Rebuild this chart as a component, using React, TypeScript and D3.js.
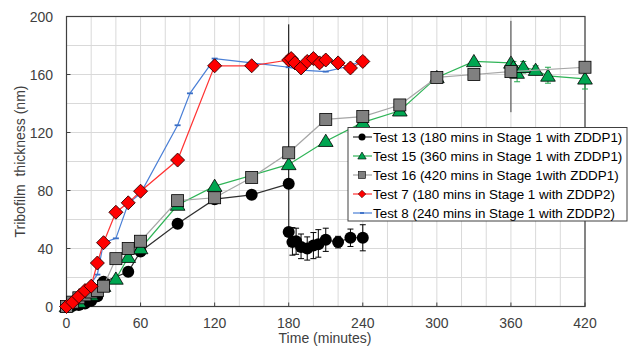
import React from "react";
import * as d3 from "d3";

// ---------- data ----------
const t13Time = [0, 5, 10, 15, 20, 25, 30, 50, 60, 90, 120, 150, 180, 180, 183, 186, 190, 195, 200, 204, 210, 220, 230, 240];
const t13Val = [0, 0.5, 1, 2, 4, 7, 17, 24, 38, 57, 74, 77, 84.6, 51.3, 44.4, 45, 41, 40, 42, 43, 46, 44.4, 47.4, 47.4];
const t13ErrPlus = [0, 0, 0, 0, 0, 0, 0, 0, 0, 0, 0, 0, 110, 0, 10, 9, 9, 8, 9, 10, 8, 4, 6, 9];
const t13ErrMinus = [0, 0, 0, 0, 0, 0, 0, 0, 0, 0, 0, 0, 0, 0, 9, 9, 8, 8, 9, 9, 8, 4, 6, 9];

const t15Time = [0, 10, 20, 30, 40, 50, 60, 90, 120, 180, 210, 240, 270, 300, 330, 360, 362, 365, 370, 380, 390, 420];
const t15Val = [0, 3, 8, 14, 19, 34, 40, 70, 83, 98, 114, 127, 135, 158, 169, 168, 165, 161, 165, 163, 159, 157];
const t15ErrPlus = [0, 0, 0, 0, 0, 0, 0, 0, 0, 0, 0, 0, 0, 0, 0, 0, 4, 5, 4, 3, 6, 0];
const t15ErrMinus = [0, 0, 0, 0, 0, 0, 0, 0, 0, 0, 0, 0, 0, 0, 0, 0, 4, 6, 4, 3, 5, 7];

const t16Time = [0, 5, 10, 15, 20, 25, 30, 40, 50, 60, 90, 120, 150, 180, 210, 240, 270, 300, 330, 360, 420];
const t16Val = [0, 3, 6, 8, 10, 11, 14, 33, 40, 45, 73, 75, 89, 106, 129, 131, 139, 158, 160, 162, 165];
const t16ErrPlus = [0, 0, 0, 0, 0, 0, 0, 0, 0, 0, 0, 0, 0, 0, 0, 0, 0, 0, 0, 35, 0];
const t16ErrMinus = [0, 0, 0, 0, 0, 0, 0, 0, 0, 0, 0, 0, 0, 0, 0, 0, 0, 0, 0, 28, 0];

const t7Time = [0, 5, 10, 15, 20, 25, 30, 40, 50, 60, 90, 120, 150, 180, 182, 185, 190, 195, 200, 205, 210, 220, 230, 240];
const t7Val = [0, 3, 7, 11, 14, 30, 44, 65, 71.5, 79.5, 101, 166, 166, 170, 171, 168, 164.5, 169, 171, 168, 170, 168, 164.5, 169];
const t7Err = [0, 0, 0, 0, 0, 0, 0, 0, 0, 0, 0, 0, 0, 3, 3, 3, 3, 3, 3, 3, 3, 3, 3, 3];

const t8Time = [0, 5, 10, 15, 20, 25, 30, 40, 50, 60, 90, 100, 120, 150, 180, 190, 210, 230, 240];
const t8Val = [0, 1, 5, 10, 16, 22, 44, 47, 71, 78, 125, 147, 171, 168, 165, 163, 162, 166, 170];

const xTicks = [0, 60, 120, 180, 240, 300, 360, 420];
const yTicks = [0, 40, 80, 120, 160, 200];
const xGrid = d3.range(0, 421, 20);
const yGrid = d3.range(0, 201, 20);

const legendLabels = [
  "Test 13 (180 mins in Stage 1 with ZDDP1)",
  "Test 15 (360 mins in Stage 1 with ZDDP1)",
  "Test 16 (420 mins in Stage 1with ZDDP1)",
  "Test 7 (180 mins in Stage 1 with ZDDP2)",
  "Test 8 (240 mins in Stage 1 with ZDDP2)",
];

// ---------- layout ----------
const W = 628, H = 346;
const L = 66.5, R = 585, T = 16.5, B = 306.5;
const x = d3.scaleLinear().domain([0, 420]).range([L, R]);
const y = d3.scaleLinear().domain([0, 200]).range([B, T]);
const FONT = "'Liberation Sans', Arial, sans-serif";

type Pt = { t: number; v: number; ep: number; em: number };
const zip = (ts: number[], vs: number[], ep?: number[], em?: number[]): Pt[] =>
  ts.map((t, i) => ({ t, v: vs[i], ep: ep ? ep[i] : 0, em: em ? em[i] : ep ? ep[i] : 0 }));

const s13 = zip(t13Time, t13Val, t13ErrPlus, t13ErrMinus);
const s15 = zip(t15Time, t15Val, t15ErrPlus, t15ErrMinus);
const s16 = zip(t16Time, t16Val, t16ErrPlus, t16ErrMinus);
const s7 = zip(t7Time, t7Val, t7Err, t7Err);
const s8 = zip(t8Time, t8Val);

const line = d3.line<Pt>().x((d) => x(d.t)).y((d) => y(d.v));

function ErrorBars({ data, color }: { data: Pt[]; color: string }) {
  return (
    <g stroke={color} strokeWidth={1}>
      {data.filter((d) => d.ep > 0 || d.em > 0).map((d, i) => {
        const hi = Math.min(200, d.v + d.ep);
        const lo = Math.max(0, d.v - d.em);
        const caps = d.ep < 20 && d.em < 20;
        return (
          <g key={i}>
            <line x1={x(d.t)} x2={x(d.t)} y1={y(hi)} y2={y(lo)} />
            {caps && d.ep > 0 && <line x1={x(d.t) - 3} x2={x(d.t) + 3} y1={y(hi)} y2={y(hi)} />}
            {caps && d.em > 0 && <line x1={x(d.t) - 3} x2={x(d.t) + 3} y1={y(lo)} y2={y(lo)} />}
          </g>
        );
      })}
    </g>
  );
}

const triPath = (cx: number, cy: number, s: number) =>
  `M${cx},${cy - s}L${cx + s * 1.05},${cy + s * 0.75}L${cx - s * 1.05},${cy + s * 0.75}Z`;
const diaPath = (cx: number, cy: number, s: number) =>
  `M${cx},${cy - s}L${cx + s},${cy}L${cx},${cy + s}L${cx - s},${cy}Z`;

export default function App() {
  const legendX = 348, legendY = 127.5, rowH = 19;
  return (
    <svg width={W} height={H} style={{ position: "absolute", left: 0, top: 0, background: "#fff" }} fontFamily={FONT}>
      <rect x={0} y={0} width={W} height={H} fill="#fff" />
      {/* grid */}
      <g stroke="#d9d9d9" strokeWidth={1}>
        {xGrid.map((g) => (
          <line key={"gx" + g} x1={x(g)} x2={x(g)} y1={T} y2={B} />
        ))}
        {yGrid.map((g) => (
          <line key={"gy" + g} x1={L} x2={R} y1={y(g)} y2={y(g)} />
        ))}
      </g>
      {/* ticks inward */}
      <g stroke="#404040" strokeWidth={1}>
        {xTicks.map((t) => (
          <line key={"tx" + t} x1={x(t)} x2={x(t)} y1={B} y2={B - 4} />
        ))}
        {yTicks.map((t) => (
          <line key={"ty" + t} x1={L} x2={L + 4} y1={y(t)} y2={y(t)} />
        ))}
      </g>
      {/* frame */}
      <rect x={L} y={T} width={R - L} height={B - T} fill="none" stroke="#404040" strokeWidth={1.2} />

      {/* Test 13 */}
      <ErrorBars data={s13} color="#000" />
      <path d={line(s13) || ""} fill="none" stroke="#303030" strokeWidth={1.2} />
      {s13.map((d, i) => (
        <circle key={"c" + i} cx={x(d.t)} cy={y(d.v)} r={6} fill="#000" />
      ))}

      {/* Test 15 */}
      <ErrorBars data={s15} color="#1fa54a" />
      <path d={line(s15) || ""} fill="none" stroke="#2fb457" strokeWidth={1.2} />
      {s15.map((d, i) => (
        <path key={"t" + i} d={triPath(x(d.t), y(d.v), 7)} fill="#00a651" stroke="#000" strokeWidth={0.8} />
      ))}

      {/* Test 16 */}
      <ErrorBars data={s16} color="#404040" />
      <path d={line(s16) || ""} fill="none" stroke="#a6a6a6" strokeWidth={1.2} />
      {s16.map((d, i) => (
        <rect key={"s" + i} x={x(d.t) - 6} y={y(d.v) - 6} width={12} height={12} fill="#808080" stroke="#000" strokeWidth={0.8} />
      ))}

      {/* Test 8 */}
      <path d={line(s8) || ""} fill="none" stroke="#4a7fd6" strokeWidth={1.2} />
      {s8.map((d, i) => (
        <line key={"b" + i} x1={x(d.t) - 3} x2={x(d.t) + 3} y1={y(d.v)} y2={y(d.v)} stroke="#3a6fc6" strokeWidth={1.8} />
      ))}

      {/* Test 7 */}
      <ErrorBars data={s7} color="#ff0000" />
      <path d={line(s7) || ""} fill="none" stroke="#ff3333" strokeWidth={1.2} />
      {s7.map((d, i) => (
        <path key={"d" + i} d={diaPath(x(d.t), y(d.v), 7)} fill="#ff0000" stroke="#300000" strokeWidth={0.9} />
      ))}

      {/* tick labels */}
      <g fontSize={14} fill="#404040">
        {xTicks.map((t) => (
          <text key={"lx" + t} x={x(t)} y={328} textAnchor="middle">
            {t}
          </text>
        ))}
        {yTicks.map((t) => (
          <text key={"ly" + t} x={53} y={y(t) + 5} textAnchor="end">
            {t}
          </text>
        ))}
      </g>
      {/* axis titles */}
      <text x={325} y={343} textAnchor="middle" fontSize={14} fill="#404040">
        Time (minutes)
      </text>
      <text transform={`translate(25,${(T + B) / 2}) rotate(-90)`} textAnchor="middle" fontSize={14} fill="#404040" style={{ whiteSpace: "pre" }}>
        {"Tribofilm  thickness (nm)"}
      </text>

      {/* legend */}
      <rect x={legendX} y={legendY} width={W - legendX - 1} height={93.5} fill="#fff" stroke="#404040" strokeWidth={1} />
      {legendLabels.map((lab, i) => {
        const cy = legendY + 9.5 + i * rowH;
        const cx = 362;
        const colors = ["#303030", "#2fb457", "#a6a6a6", "#ff3333", "#4a7fd6"];
        return (
          <g key={"lg" + i}>
            <line x1={353} x2={372} y1={cy} y2={cy} stroke={colors[i]} strokeWidth={1.2} />
            {i === 0 && <circle cx={cx} cy={cy} r={3.5} fill="#000" />}
            {i === 1 && <path d={triPath(cx, cy, 4)} fill="#00a651" stroke="#000" strokeWidth={0.6} />}
            {i === 2 && <rect x={cx - 3.5} y={cy - 3.5} width={7} height={7} fill="#808080" stroke="#000" strokeWidth={0.6} />}
            {i === 3 && <path d={diaPath(cx, cy, 3.8)} fill="#ff0000" stroke="#400000" strokeWidth={0.6} />}
            {i === 4 && <line x1={cx - 2} x2={cx + 2} y1={cy} y2={cy} stroke="#3a6fc6" strokeWidth={1.8} />}
            <text x={373} y={cy + 5} fontSize={13.4} fill="#000">
              {lab}
            </text>
          </g>
        );
      })}
    </svg>
  );
}
